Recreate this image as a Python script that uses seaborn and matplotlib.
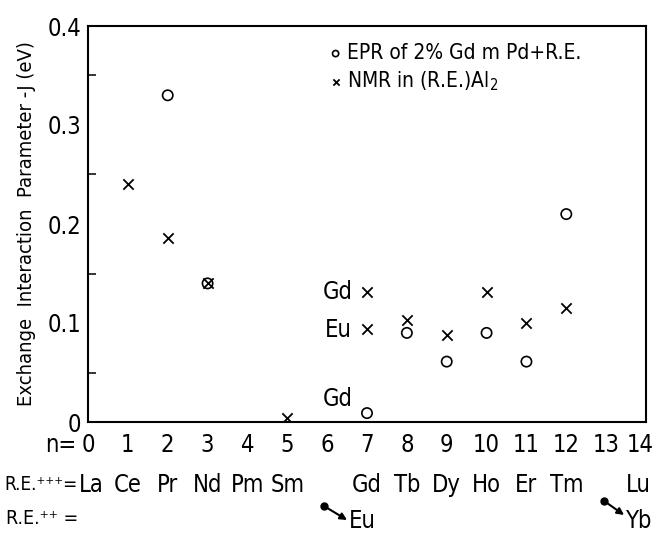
import numpy as np
import pandas as pd
import matplotlib
matplotlib.use('Agg')
import matplotlib.pyplot as plt
import seaborn as sns
from matplotlib.transforms import blended_transform_factory, ScaledTranslation

# ---- data ----
epr_n = [2, 3, 7, 8, 9, 10, 11, 12]
epr_J = [0.330, 0.140, 0.009, 0.090, 0.061, 0.090, 0.061, 0.210]
nmr_n = [1, 2, 3, 5, 7, 7, 8, 9, 10, 11, 12]
nmr_J = [0.240, 0.186, 0.140, 0.004, 0.131, 0.094, 0.103, 0.088, 0.131, 0.100, 0.115]
n_ticks = list(range(15))
re3_labels = ['La', 'Ce', 'Pr', 'Nd', 'Pm', 'Sm', '', 'Gd', 'Tb', 'Dy', 'Ho', 'Er', 'Tm', '', 'Lu']
y_ticks = [0, 0.1, 0.2, 0.3, 0.4]
y_ticklabels = ['0', '0.1', '0.2', '0.3', '0.4']
epr_label = 'EPR of 2% Gd m Pd+R.E.'
nmr_label = 'NMR in (R.E.)Al$_2$'

sns.set_theme(style='white')
plt.rcParams['font.family'] = ['DejaVu Sans']
plt.rcParams['font.stretch'] = 'condensed'
plt.rcParams['mathtext.default'] = 'regular'
for k in ['text.color', 'axes.labelcolor', 'xtick.color', 'ytick.color']:
    plt.rcParams[k] = 'black'

fig = plt.figure(figsize=(6.54, 5.34), dpi=100)
ax = fig.add_axes([88/654, 1-422/534, (646-88)/654, (422-26)/534])

epr = pd.DataFrame({'n': epr_n, 'J': epr_J})
nmr = pd.DataFrame({'n': nmr_n, 'J': nmr_J})

sns.scatterplot(data=epr, x='n', y='J', ax=ax, marker='o', s=55,
                facecolors='none', edgecolor='black', linewidth=1.2,
                label=epr_label, zorder=3)
sns.scatterplot(data=nmr, x='n', y='J', ax=ax, marker='x', s=55,
                color='black', linewidth=1.3, label=nmr_label, zorder=3)

ax.set_xlim(0, 14)
ax.set_ylim(0, 0.4)
ax.set_xlabel('')
ax.set_ylabel('Exchange  Interaction  Parameter -J (eV)', fontsize=14.5, labelpad=8)

fs = 17
ax.set_xticks(n_ticks)
ax.set_xticklabels([str(v) for v in n_ticks], fontsize=fs)
ax.set_yticks(y_ticks)
ax.set_yticklabels(y_ticklabels, fontsize=fs)
ax.set_yticks(np.arange(0.05, 0.4, 0.1), minor=True)
ax.tick_params(axis='both', which='both', direction='in')
ax.tick_params(axis='x', which='major', length=6, width=1.1, pad=8)
ax.tick_params(axis='y', which='major', length=6, width=1.1, pad=5)
ax.tick_params(axis='y', which='minor', length=6, width=1.1, left=True)
for sp in ax.spines.values():
    sp.set_visible(True)
    sp.set_color('black')
    sp.set_linewidth(1.5)

# last x tick label pulled inside the canvas
last = ax.get_xticklabels()[-1]
last.set_horizontalalignment('right')
last.set_transform(last.get_transform() + ScaledTranslation(8/100, 0, fig.dpi_scale_trans))

leg = ax.legend(frameon=False, loc='upper left', bbox_to_anchor=(0.412, 0.978),
                handletextpad=0.1, handlelength=0.9, markerscale=0.6,
                fontsize=15, labelspacing=0.3, borderaxespad=0)

# point labels
ax.text(6.27, 0.131, 'Gd', fontsize=fs, ha='center', va='center')
ax.text(6.27, 0.093, 'Eu', fontsize=fs, ha='center', va='center')
ax.text(6.27, 0.023, 'Gd', fontsize=fs, ha='center', va='center')

# rows under the axis
tr = blended_transform_factory(ax.transData, fig.transFigure)
ax.text(-0.3, 1-445/534, 'n=', transform=tr, fontsize=fs, ha='right', va='center')
row2 = 1-485/534
fig.text(4/654, row2, 'R.E.\u207a\u207a\u207a=', fontsize=13.5, ha='left', va='center')
for n, lab in zip(n_ticks, re3_labels):
    if lab:
        if n == 0:
            ax.text(-0.22, row2, lab, transform=tr, fontsize=fs, ha='left', va='center')
        else:
            xx = n if n < 14 else 13.8
            ax.text(xx, row2, lab, transform=tr, fontsize=fs, ha='center', va='center', clip_on=False)
row3 = 1-519/534
fig.text(6/654, row3, 'R.E.\u207a\u207a =', fontsize=14, ha='left', va='center')

for x0, y0, x1, y1, lab, xt in [(5.92, 1-506/534, 6.5, 1-520/534, 'Eu', 6.55),
                                (12.95, 1-501/534, 13.45, 1-515/534, 'Yb', 13.5)]:
    ax.plot([x0], [y0], 'o', color='black', ms=5, transform=tr, clip_on=False)
    ax.annotate('', xy=(x1, y1), xytext=(x0, y0), xycoords=tr, textcoords=tr,
                arrowprops=dict(arrowstyle='-|>', color='black', lw=1.5,
                                mutation_scale=10, shrinkA=0, shrinkB=0),
                annotation_clip=False)
    ax.text(xt, 1-521/534, lab, transform=tr, fontsize=fs, ha='left', va='center')

fig.savefig('out.png', dpi=100)
